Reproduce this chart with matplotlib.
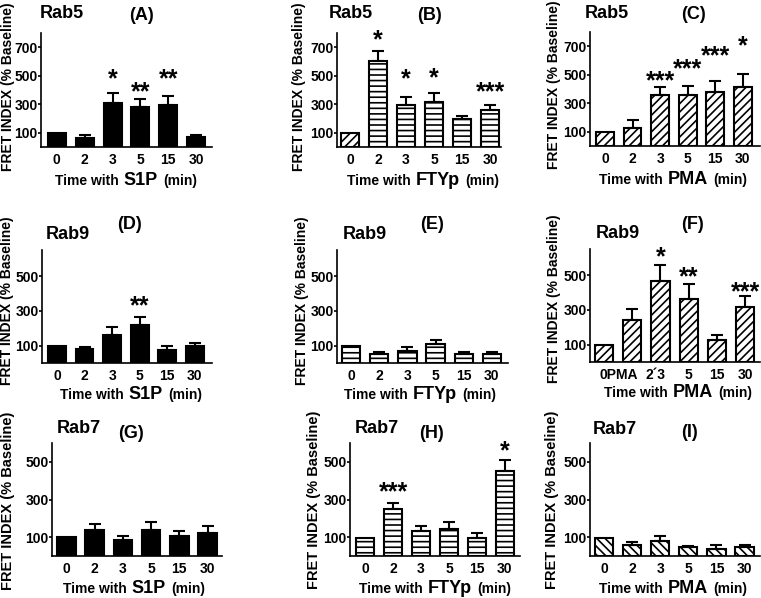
import matplotlib
matplotlib.use("Agg")
import matplotlib.pyplot as plt
import numpy as np

plt.rcParams['font.family'] = ['Liberation Sans', 'DejaVu Sans']
plt.rcParams['font.weight'] = 'bold'
plt.rcParams['hatch.linewidth'] = 1.2
plt.rcParams['hatch.color'] = 'black'

# ---------------- data ----------------
times = ["0", "2", "3", "5", "15", "30"]
f_ticklabels = ["0PMA", "", "2\u00b43", "5", "15", "30"]

a_vals = [100, 65, 308, 283, 292, 72]
a_sem = [0, 16, 74, 57, 63, 15]
a_stars = [(2, "*", 521), (3, "**", 431), (4, "**", 526)]

b_vals = [95, 605, 298, 316, 196, 258]
b_sem = [0, 68, 52, 60, 25, 35]
b_stars = [(1, "*", 795), (2, "*", 526), (3, "*", 533), (5, "***", 431)]

c_vals = [100, 129, 358, 358, 381, 417]
c_sem = [0, 50, 59, 60, 77, 86]
c_stars = [(2, "***", 503), (3, "***", 584), (4, "***", 676), (5, "*", 748)]

d_vals = [100, 78, 161, 218, 75, 98]
d_sem = [0, 15, 47, 48, 22, 19]
d_stars = [(3, "**", 367)]

e_vals = [100, 52, 67, 109, 52, 52]
e_sem = [0, 12, 26, 23, 11, 12]
e_stars = []

f_vals = [100, 244, 467, 360, 128, 317]
f_sem = [0, 58, 91, 86, 30, 62]
f_stars = [(2, "*", 644), (3, "**", 529), (5, "***", 442)]

g_vals = [100, 140, 85, 140, 105, 124]
g_sem = [0, 31, 20, 40, 30, 34]
g_stars = []

h_vals = [95, 250, 134, 145, 95, 452]
h_sem = [0, 29, 27, 34, 26, 57]
h_stars = [(1, "***", 375), (5, "*", 592)]

i_vals = [96, 60, 78, 46, 37, 46]
i_sem = [0, 16, 30, 9, 23, 14]
i_stars = []

row_ticks = {1: [100, 300, 500, 700], 2: [100, 300, 500], 3: [100, 300, 500]}
row_ylim = {1: 800, 2: 650, 3: 600}

# ---------------- layout ----------------
W, H = 761, 598
fig = plt.figure(figsize=(W / 100, H / 100), dpi=100)

SOLID = None
HZ = '---'
DG = '////'
BD = '\\\\\\\\'

panels = [
    dict(vals=a_vals, sem=a_sem, stars=a_stars, rab="Rab5", let="(A)", agent="S1P", row=1,
         box=(41, 33, 212, 147), xlim=(-0.57, 5.57), hatch=[SOLID] * 6,
         title=(62, 18), letpos=(142, 20), ylab=(8, 87, 10), xlab=(126, 185)),
    dict(vals=b_vals, sem=b_sem, stars=b_stars, rab="Rab5", let="(B)", agent="FTYp", row=1,
         box=(337, 33, 501, 147), xlim=(-0.46, 5.39), hatch=[DG] + [HZ] * 5,
         title=(351, 18), letpos=(430, 20), ylab=(299, 87, 10), xlab=(423, 185)),
    dict(vals=c_vals, sem=c_sem, stars=c_stars, rab="Rab5", let="(C)", agent="PMA", row=1,
         box=(590, 32, 760, 146), xlim=(-0.54, 5.62), hatch=[DG] * 6,
         title=(607, 18), letpos=(693, 19), ylab=(554, 85, 10), xlab=(673, 184)),
    dict(vals=d_vals, sem=d_sem, stars=d_stars, rab="Rab9", let="(D)", agent="S1P", row=2,
         box=(42, 250, 212, 363), xlim=(-0.54, 5.62), hatch=[SOLID] * 6,
         title=(68, 239), letpos=(130, 229), ylab=(7, 301, 10), xlab=(131, 399)),
    dict(vals=e_vals, sem=e_sem, stars=e_stars, rab="Rab9", let="(E)", agent="FTYp", row=2,
         box=(337, 250, 508, 363), xlim=(-0.5, 5.57), hatch=[HZ] * 6,
         title=(365, 239), letpos=(432, 229), ylab=(302, 301, 10), xlab=(420, 399)),
    dict(vals=f_vals, sem=f_sem, stars=f_stars, rab="Rab9", let="(F)", agent="PMA", row=2,
         box=(590, 249, 760, 362), xlim=(-0.5, 5.53), hatch=[DG] * 6,
         title=(618, 238), letpos=(692, 229), ylab=(554, 299, 10), xlab=(678, 397),
         ticklabels=f_ticklabels, tick_ha=['left', 'center', 'right', 'center', 'center', 'center']),
    dict(vals=g_vals, sem=g_sem, stars=g_stars, rab="Rab7", let="(G)", agent="S1P", row=3,
         box=(52, 443, 222, 556), xlim=(-0.51, 5.51), hatch=[SOLID] * 6,
         title=(79, 433), letpos=(131, 438), ylab=(8, 501, 10.5), xlab=(134, 593)),
    dict(vals=h_vals, sem=h_sem, stars=h_stars, rab="Rab7", let="(H)", agent="FTYp", row=3,
         box=(350, 443, 520, 556), xlim=(-0.54, 5.54), hatch=[HZ] * 6,
         title=(377, 433), letpos=(432, 438), ylab=(314, 500, 10.5), xlab=(435, 593)),
    dict(vals=i_vals, sem=i_sem, stars=i_stars, rab="Rab7", let="(I)", agent="PMA", row=3,
         box=(590, 443, 760, 556), xlim=(-0.5, 5.55), hatch=[BD] * 6,
         title=(615, 434), letpos=(689, 437), ylab=(552, 500, 10.5), xlab=(673, 593)),
]

TICKFS = 10
renderer = fig.canvas.get_renderer()


def mixed_label(cx, base_y, parts, gap=5):
    texts = []
    for s, fs in parts:
        t = fig.text(0, 1 - base_y / H, s, fontsize=fs, fontweight='bold',
                     ha='left', va='baseline')
        texts.append(t)
    widths = [t.get_window_extent(renderer).width for t in texts]
    total = sum(widths) + gap * (len(texts) - 1)
    x = cx - total / 2
    for t, w in zip(texts, widths):
        t.set_x(x / W)
        x += w + gap


for p in panels:
    l, t, r, b = p['box']
    ax = fig.add_axes([l / W, 1 - b / H, (r - l) / W, (b - t) / H])
    x = np.arange(len(times))
    vals = p['vals']
    faces = ['black' if h is None else 'white' for h in p['hatch']]
    bars = ax.bar(x, vals, width=0.65, color=faces, edgecolor='black', linewidth=1.5, zorder=2)
    for bar, h in zip(bars, p['hatch']):
        if h is not None:
            bar.set_hatch(h)
    for i, (v, s) in enumerate(zip(vals, p['sem'])):
        if s > 0:
            ax.errorbar(i, v, yerr=[[0], [s]], fmt='none', ecolor='black',
                        elinewidth=1.5, capsize=4, capthick=1.5, zorder=3)
    for i, txt, y in p['stars']:
        ax.annotate(txt, xy=(i, y), xytext=(0, -10), textcoords='offset points',
                    ha='center', va='baseline', fontsize=18, fontweight='bold',
                    annotation_clip=False)
    ax.set_xlim(*p['xlim'])
    ax.set_ylim(0, row_ylim[p['row']])
    ax.set_yticks(row_ticks[p['row']])
    ax.tick_params(axis='y', length=2, width=1.2, pad=0.3, labelsize=TICKFS)
    ax.tick_params(axis='x', length=0, pad=4, labelsize=TICKFS)
    labels = p.get('ticklabels', times)
    has = p.get('tick_ha', ['center'] * len(labels))
    ax.set_xticks(x)
    ax.set_xticklabels([lab if h == 'center' else '' for lab, h in zip(labels, has)])
    for i, (lab, h) in enumerate(zip(labels, has)):
        if h != 'center' and lab:
            ax.annotate(lab, xy=(i, 0), xycoords=('data', 'axes fraction'),
                        xytext=(-3.5 if h == 'left' else 3.5, -4), textcoords='offset points',
                        ha=h, va='top', fontsize=TICKFS, fontweight='bold')
    for sp in ['top', 'right']:
        ax.spines[sp].set_visible(False)
    for sp in ['left', 'bottom']:
        ax.spines[sp].set_linewidth(1.2)
    for lab in ax.get_xticklabels() + ax.get_yticklabels():
        lab.set_fontweight('bold')

    tx, ty = p['title']
    fig.text(tx / W, 1 - ty / H, p['rab'], fontsize=13, fontweight='bold', ha='center', va='baseline')
    lx, ly = p['letpos']
    fig.text(lx / W, 1 - ly / H, p['let'], fontsize=13, fontweight='bold', ha='center', va='baseline')
    yx, yy, yfs = p['ylab']
    fig.text(yx / W, 1 - yy / H, "FRET INDEX (% Baseline)", fontsize=yfs, fontweight='bold',
             rotation=90, ha='center', va='center')
    xx, xy_ = p['xlab']
    mixed_label(xx, xy_, [("Time with", 10), (p['agent'], 13), ("(min)", 10)])

fig.savefig("out.png", dpi=100)
